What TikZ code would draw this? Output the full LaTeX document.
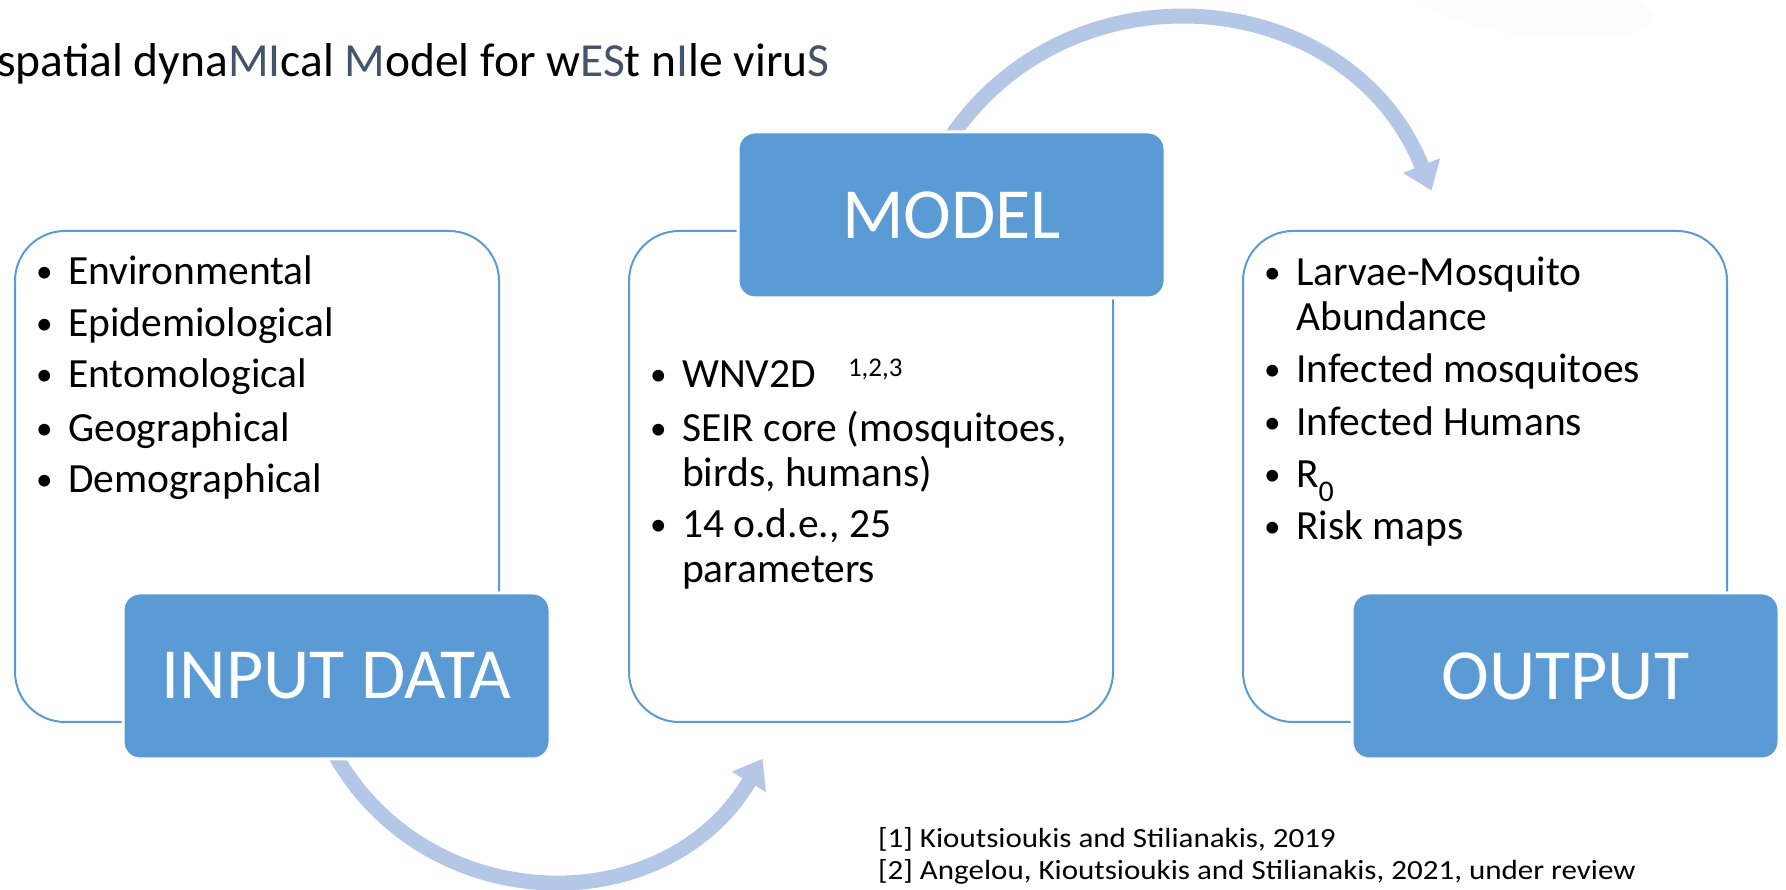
\documentclass[tikz,border=0pt]{standalone}
\usepackage{fontspec}
\setmainfont{Carlito}
\newfontfamily\notefont[FakeStretch=1.12]{Carlito}
\usetikzlibrary{arrows.meta}

\definecolor{boxblue}{HTML}{5B9BD5}
\definecolor{arrowblue}{HTML}{B4C7E7}
\definecolor{slate}{HTML}{44546A}

% bullet followed by the hanging indent of a list item
\newcommand{\itembullet}{\makebox[32pt][l]{\raisebox{0.07em}{\scalebox{0.8}{\textbullet}}}}

\begin{document}
\begin{tikzpicture}[x=1pt,y=1pt,
  panel/.style={draw=boxblue, line width=2pt, fill=white, rounded corners=50pt,
    minimum width=484pt, minimum height=491pt, anchor=north west, inner sep=0pt},
  tab/.style={fill=boxblue, draw=white, line width=3pt, rounded corners=17pt,
    minimum width=427pt, minimum height=166pt, inner sep=0pt, text=white,
    font=\fontsize{72}{72}\selectfont},
  cyclearrow/.style={draw=arrowblue, line width=15pt,
    -{Triangle[length=27pt,width=38pt]}},
  itemline/.style={anchor=base west, inner sep=0pt, text=black,
    font=\fontsize{41.5}{41.5}\selectfont},
  heading/.style={anchor=base west, inner sep=0pt,
    font=\fontsize{47.5}{47.5}\selectfont},
  note/.style={anchor=base west, inner sep=0pt,
    font=\notefont\fontsize{27.7}{27.7}\selectfont},
]
\useasboundingbox (0,0) rectangle (1786,890);

% faint background swoosh in the upper right corner
\fill[black!1, rotate around={-6:(1536,884)}] (1536,884) ellipse [x radius=118, y radius=30];

% heading
\node[heading] (title) at (-3,813)
  {spatial dyna\textcolor{slate}{MI}cal \textcolor{slate}{M}odel for w\textcolor{slate}{ES}t n\textcolor{slate}{I}le viru\textcolor{slate}{S}};

% curved arrows of the cycle
\coordinate (b0) at (329.9,144.9);
\coordinate (b1) at (762.6,131.3);
\coordinate (t0) at (944.6,743.2);
\coordinate (t1) at (1431.6,699.3);
\draw[cyclearrow] (b0) to[out=-63, in=239.4, looseness=1.15] (b1);
\draw[cyclearrow] (t0) to[out=58, in=111.7, looseness=1.17] (t1);

% white panels
\node[panel] (inpanel)  at (14,660)   {};
\node[panel] (modpanel) at (628,660)  {};
\node[panel] (outpanel) at (1242,660) {};

% blue tabs
\node[tab] (intab)  at (336.5,214)  {INPUT DATA};
\node[tab] (modtab) at (951.5,675)  {MODEL};
\node[tab] (outtab) at (1565.5,214) {OUTPUT};

% input data items
\node[itemline] (in1) at (36,605) {\itembullet Environmental};
\node[itemline] (in2) at (36,553) {\itembullet Epidemiological};
\node[itemline] (in3) at (36,502) {\itembullet Entomological};
\node[itemline] (in4) at (36,448) {\itembullet Geographical};
\node[itemline] (in5) at (36,397) {\itembullet Demographical};

% model items
\node[itemline] (mo1) at (650,502)
  {\itembullet WNV2D\hspace{32pt}\raisebox{11pt}{\fontsize{27}{27}\selectfont 1,2,3}};
\node[itemline] (mo2) at (650,448) {\itembullet SEIR core (mosquitoes,};
\node[itemline] (mo3) at (682,403) {birds, humans)};
\node[itemline] (mo4) at (650,352) {\itembullet 14 o.d.e., 25};
\node[itemline] (mo5) at (682,307) {parameters};

% output items
\node[itemline] (ou1) at (1264,604) {\itembullet Larvae-Mosquito};
\node[itemline] (ou2) at (1296,559) {Abundance};
\node[itemline] (ou3) at (1264,507) {\itembullet Infected mosquitoes};
\node[itemline] (ou4) at (1264,454) {\itembullet Infected Humans};
\node[itemline] (ou5) at (1264,402)
  {\itembullet R\raisebox{-14pt}{\fontsize{30}{30}\selectfont 0}};
\node[itemline] (ou6) at (1264,350) {\itembullet Risk maps};

% references
\node[note] (ref1) at (878,42) {[1] Kioutsioukis and Stilianakis, 2019};
\node[note] (ref2) at (878,10) {[2] Angelou, Kioutsioukis and Stilianakis, 2021, under review};
\end{tikzpicture}
\end{document}
